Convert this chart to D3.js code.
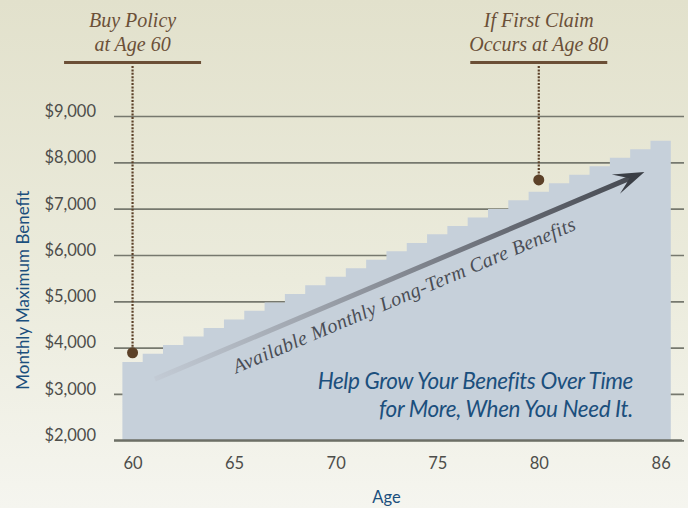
<!DOCTYPE html>
<html><head><meta charset="utf-8">
<script src="https://cdn.jsdelivr.net/npm/d3@7/dist/d3.min.js"></script>
<style>
html,body{margin:0;padding:0;background:#f0f0e6;}
svg{display:block;}
</style></head>
<body>
<svg id="chart" width="688" height="508"></svg>
<script>
// ---- data ----
const ages = [60,61,62,63,64,65,66,67,68,69,70,71,72,73,74,75,76,77,78,79,80,81,82,83,84,85,86];
const benefits = [3690,3870,4055,4240,4425,4610,4795,4975,5160,5345,5530,5715,5895,6080,6260,6445,6625,6810,6995,7180,7365,7550,7730,7915,8100,8285,8465];
const xTickValues = [60,65,70,75,80,86];
const yTickValues = [2000,3000,4000,5000,6000,7000,8000,9000];
const markerAges = [60,80];
const markerValues = [3890,7620];
const markerLabels = [["Buy Policy","at Age 60"],["If First Claim","Occurs at Age 80"]];
const arrowFrom = [61.1,3320];
const arrowTo = [85.2,7790];
const arrowLabel = "Available Monthly Long-Term Care Benefits";
const arrowLabelAt = [73.5,5000];
const tagLines = ["Help Grow Your Benefits Over Time","for More, When You Need It."];
const yTitle = "Monthly Maximum Benefit";
const xTitle = "Age";

// ---- setup ----
const svg = d3.select("#chart");
const W = 688, H = 508;
const x = d3.scaleLinear().domain([59.5,86.5]).range([122.4,670.8]);
const y = d3.scaleLinear().domain([2000,9000]).range([440.3,116]);
const navy = "#1b4f7d", brown = "#6b5038", grey = "#4d4d4a";

const defs = svg.append("defs");
const bg = defs.append("linearGradient").attr("id","bg").attr("x1",0).attr("y1",0).attr("x2",0).attr("y2",1);
bg.append("stop").attr("offset","0%").attr("stop-color","#e2e1cc");
bg.append("stop").attr("offset","55%").attr("stop-color","#ebebdc");
bg.append("stop").attr("offset","100%").attr("stop-color","#f5f5ef");
svg.append("rect").attr("width",W).attr("height",H).attr("fill","url(#bg)");

// gridlines + y labels
const gridRight = 684, gridLeft = 114;
const yAxis = d3.axisLeft(y).tickValues(yTickValues).tickFormat(d3.format("$,"))
  .tickSizeInner(-(gridRight-gridLeft)).tickSizeOuter(0).tickPadding(18);
const gy = svg.append("g").attr("transform",`translate(${gridLeft},0)`).call(yAxis);
gy.select(".domain").remove();
gy.selectAll(".tick line").attr("stroke","#76786e").attr("stroke-width",1.7);
gy.selectAll(".tick text").attr("font-family","Lato, 'Open Sans', sans-serif").attr("font-size",16.5)
  .attr("fill",grey).attr("dy","0.02em").attr("x",-18);

// staircase area
const stepPts = [];
ages.forEach((a,i)=>{ stepPts.push([a-0.5,benefits[i]]); stepPts.push([a+0.5,benefits[i]]); });
const area = d3.area().x(d=>x(d[0])).y0(y(2000)).y1(d=>y(d[1]));
svg.append("path").datum(stepPts).attr("d",area).attr("fill","#c6d0da");

// x axis
const xAxis = d3.axisBottom(x).tickValues(xTickValues).tickSize(0).tickPadding(17).tickFormat(d3.format("d"));
const gx = svg.append("g").attr("transform",`translate(0,${y(2000)})`).call(xAxis);
gx.select(".domain").remove();
gx.selectAll(".tick text").attr("font-family","Lato, 'Open Sans', sans-serif").attr("font-size",16.5).attr("fill",grey);
svg.append("line").attr("x1",gridLeft).attr("x2",682).attr("y1",y(2000)).attr("y2",y(2000))
  .attr("stroke","#6d6f66").attr("stroke-width",2);

// axis titles
svg.append("text").attr("transform",`translate(29,${(y(2000)+y(9000))/2+12}) rotate(-90)`)
  .attr("text-anchor","middle").attr("font-family","Lato, sans-serif").attr("font-size",17)
  .attr("fill",navy).text(yTitle);
svg.append("text").attr("x",x(72.5)).attr("y",503).attr("text-anchor","middle")
  .attr("font-family","Lato, sans-serif").attr("font-size",16.5).attr("fill",navy).text(xTitle);

// arrow
const ax1 = x(arrowFrom[0]), ay1 = y(arrowFrom[1]), ax2 = x(arrowTo[0]), ay2 = y(arrowTo[1]);
const ang = Math.atan2(ay2-ay1, ax2-ax1);
const len = Math.hypot(ax2-ax1, ay2-ay1);
const ag = defs.append("linearGradient").attr("id","arr").attr("gradientUnits","userSpaceOnUse")
  .attr("x1",ax1).attr("y1",ay1).attr("x2",ax2).attr("y2",ay2);
ag.append("stop").attr("offset","0%").attr("stop-color","#c4ccd6");
ag.append("stop").attr("offset","30%").attr("stop-color","#9ea4ad");
ag.append("stop").attr("offset","65%").attr("stop-color","#6a6e77");
ag.append("stop").attr("offset","100%").attr("stop-color","#3a3e45");
const arrG = svg.append("g").attr("transform",`translate(${ax1},${ay1}) rotate(${ang*180/Math.PI})`);
arrG.append("line").attr("x1",0).attr("y1",0).attr("x2",len-15).attr("y2",0)
  .attr("stroke","url(#arr)").attr("stroke-width",5);
arrG.append("path").attr("d",`M${len},0 L${len-31},-10.5 L${len-16},0 L${len-31},10.5 Z`).attr("fill","#3a3e45");

// arrow label
svg.append("text").attr("transform",`translate(${x(arrowLabelAt[0])},${y(arrowLabelAt[1])}) rotate(${ang*180/Math.PI})`)
  .attr("text-anchor","middle").attr("font-family","'Liberation Serif', serif").attr("font-style","italic")
  .attr("font-size",20).attr("letter-spacing",0.4).attr("fill","#4a4d55").text(arrowLabel);

// tagline
tagLines.forEach((t,i)=>{
  svg.append("text").attr("x",633).attr("y",388.5+i*28.3).attr("text-anchor","end")
    .attr("font-family","Lato, sans-serif").attr("font-style","italic").attr("font-size",22.5)
    .attr("letter-spacing",-0.35).attr("fill",navy).text(t);
});

// markers
markerAges.forEach((a,i)=>{
  const mx = x(a), my = y(markerValues[i]);
  svg.append("line").attr("x1",mx-68.5).attr("x2",mx+68.5).attr("y1",62.5).attr("y2",62.5)
    .attr("stroke","#6b4f36").attr("stroke-width",3);
  svg.append("line").attr("x1",mx).attr("x2",mx).attr("y1",66).attr("y2",my)
    .attr("stroke","#5c4128").attr("stroke-width",2.2).attr("stroke-dasharray","2 1.4");
  svg.append("circle").attr("cx",mx).attr("cy",my).attr("r",5.5).attr("fill","#5c4128");
  markerLabels[i].forEach((t,j)=>{
    svg.append("text").attr("x",mx).attr("y",27+j*23.5).attr("text-anchor","middle")
      .attr("font-family","'Liberation Serif', serif").attr("font-style","italic").attr("font-size",20)
      .attr("fill",brown).text(t);
  });
});
</script>
</body></html>
